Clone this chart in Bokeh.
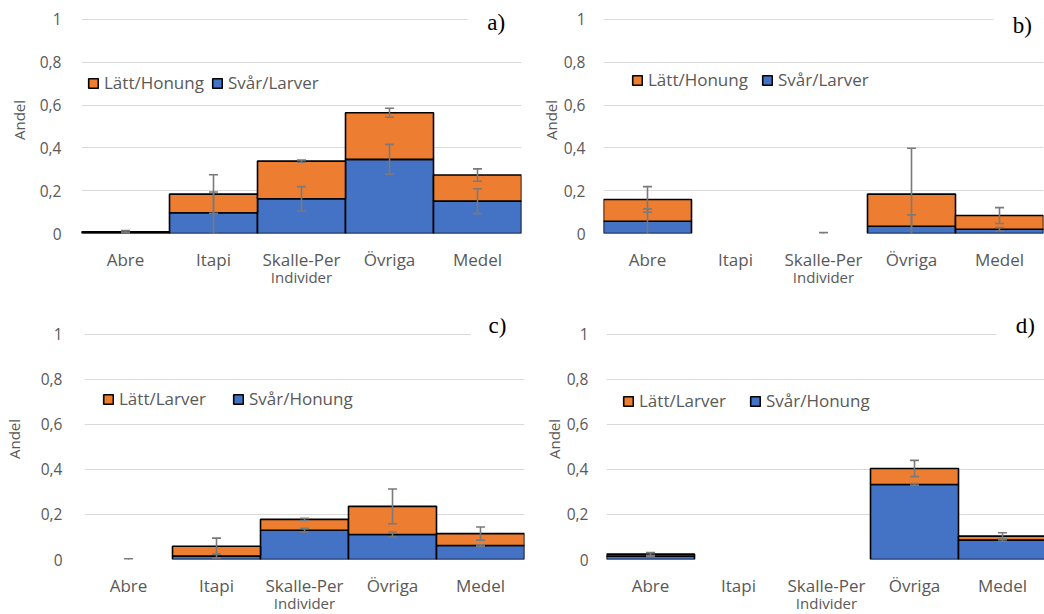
from bokeh.plotting import figure
from bokeh.layouts import column, row
from bokeh.models import ColumnDataSource, FactorRange, Range1d, FixedTicker, Legend, LegendItem, Label, BoxAnnotation
from bokeh.embed import file_html
from bokeh.resources import INLINE

categories = ["Abre", "Itapi", "Skalle-Per", "Övriga", "Medel"]
y_ticks = [0, 0.2, 0.4, 0.6, 0.8, 1]
y_tick_labels = ["0", "0,2", "0,4", "0,6", "0,8", "1"]

# a) Svår/Larver (bottom) and Lätt/Honung (top)
a_bottom = [0.004, 0.097, 0.162, 0.346, 0.151]
a_top = [0.004, 0.087, 0.176, 0.218, 0.122]
a_bottom_err = [0.003, 0.097, 0.057, 0.070, 0.058]
a_top_err = [0.006, 0.090, 0.005, 0.021, 0.029]

# b) Svår/Larver (bottom) and Lätt/Honung (top)
b_bottom = [0.057, 0.0, 0.0, 0.034, 0.020]
b_top = [0.102, 0.0, 0.0, 0.150, 0.064]
b_bottom_err = [0.058, 0.0, 0.0, 0.053, 0.008]
b_top_err = [0.060, 0.0, 0.004, 0.214, 0.037]

# c) Svår/Honung (bottom) and Lätt/Larver (top)
c_bottom = [0.0, 0.015, 0.130, 0.111, 0.062]
c_top = [0.0, 0.044, 0.048, 0.125, 0.053]
c_bottom_err = [0.0, 0.008, 0.008, 0.011, 0.003]
c_top_err = [0.003, 0.036, 0.005, 0.077, 0.029]

# d) Svår/Honung (bottom) and Lätt/Larver (top)
d_bottom = [0.015, 0.0, 0.0, 0.333, 0.086]
d_top = [0.009, 0.0, 0.0, 0.071, 0.018]
d_bottom_err = [0.003, 0.0, 0.0, 0.004, 0.005]
d_top_err = [0.007, 0.0, 0.0, 0.036, 0.015]

ORANGE = "#ED7D31"
BLUE = "#4472C4"
TEXT = "#595959"
GRID = "#D9D9D9"
ERR = "#7A7A7A"
FONT = "Open Sans"

# the y range runs a little past 1 so the panel tag fits inside the frame
TOP_ROW = dict(fh=227, ymax=1.06, bt=6, bb=67)
BOTTOM_ROW = dict(fh=241, ymax=1.07, bt=18, bb=55)


def make_panel(bottom, top, bottom_err, top_err, top_name, bottom_name, tag, rowg, g):
    p = figure(x_range=FactorRange(*categories), y_range=Range1d(0, rowg["ymax"]),
               frame_width=440, frame_height=rowg["fh"],
               min_border_left=81, min_border_right=1,
               min_border_top=rowg["bt"], min_border_bottom=rowg["bb"],
               output_backend="svg", toolbar_location=None)
    p.outline_line_color = None
    p.background_fill_color = "white"
    p.border_fill_color = "white"
    p.xgrid.grid_line_color = None
    p.ygrid.grid_line_color = GRID
    p.ygrid.grid_line_width = 1.2
    p.ygrid.ticker = FixedTicker(ticks=y_ticks)

    # stacked bars: empty segments are left out
    total = [b + t for b, t in zip(bottom, top)]
    rows_b = [i for i, v in enumerate(bottom) if v > 0]
    rows_t = [i for i, v in enumerate(top) if v > 0]
    src_b = ColumnDataSource(dict(x=[categories[i] for i in rows_b],
                                  top=[bottom[i] for i in rows_b]))
    src_t = ColumnDataSource(dict(x=[categories[i] for i in rows_t],
                                  bottom=[bottom[i] for i in rows_t],
                                  top=[total[i] for i in rows_t]))
    r_b = p.vbar(x="x", bottom=0, top="top", width=1.0, source=src_b,
                 fill_color=BLUE, line_color="black", line_width=1.6)
    r_t = p.vbar(x="x", bottom="bottom", top="top", width=1.0, source=src_t,
                 fill_color=ORANGE, line_color="black", line_width=1.6)

    # error bars centred on the top of each stacked segment
    ex, elo, ehi = [], [], []
    for i, c in enumerate(categories):
        for centre, err in ((bottom[i], bottom_err[i]), (total[i], top_err[i])):
            if err > 0:
                ex.append(c)
                elo.append(centre - err)
                ehi.append(centre + err)
    esrc = ColumnDataSource(dict(x=ex, lo=elo, hi=ehi))
    p.segment(x0="x", y0="lo", x1="x", y1="hi", source=esrc,
              line_color=ERR, line_width=1.6)
    p.scatter(x="x", y="lo", source=esrc, marker="dash", size=9,
              line_color=ERR, line_width=1.6)
    p.scatter(x="x", y="hi", source=esrc, marker="dash", size=9,
              line_color=ERR, line_width=1.6)

    # axes
    p.xaxis.axis_label = "Individer"
    p.xaxis.axis_label_text_font = FONT
    p.xaxis.axis_label_text_font_style = "normal"
    p.xaxis.axis_label_text_font_size = "15px"
    p.xaxis.axis_label_text_color = TEXT
    p.xaxis.axis_label_standoff = -7
    p.xaxis.major_label_text_font = FONT
    p.xaxis.major_label_text_font_size = "17px"
    p.xaxis.major_label_text_color = TEXT
    p.xaxis.major_label_standoff = 8
    p.xaxis.axis_line_color = None
    p.xaxis.major_tick_line_color = None
    p.xaxis.minor_tick_line_color = None

    p.yaxis.ticker = FixedTicker(ticks=y_ticks)
    p.yaxis.major_label_overrides = {t: l for t, l in zip(y_ticks, y_tick_labels)}
    p.yaxis.axis_label = "Andel"
    p.yaxis.axis_label_text_font = FONT
    p.yaxis.axis_label_text_font_style = "normal"
    p.yaxis.axis_label_text_font_size = "15px"
    p.yaxis.axis_label_text_color = TEXT
    p.yaxis.axis_label_standoff = g["yls"]
    p.yaxis.major_label_text_font = FONT
    p.yaxis.major_label_text_font_size = "15.5px"
    p.yaxis.major_label_text_color = TEXT
    p.yaxis.major_label_standoff = g["ys"]
    p.yaxis.axis_line_color = None
    p.yaxis.major_tick_line_color = None
    p.yaxis.minor_tick_line_color = None

    # legend
    legend = Legend(items=[LegendItem(label=top_name, renderers=[r_t]),
                           LegendItem(label=bottom_name, renderers=[r_b])],
                    orientation="horizontal", location=g["leg"],
                    padding=0, margin=0, spacing=g["sp"],
                    glyph_width=12, glyph_height=12, label_standoff=5,
                    label_height=20, label_text_font=FONT,
                    label_text_font_size="17px", label_text_color=TEXT,
                    background_fill_alpha=0, border_line_color=None)
    p.add_layout(legend, "center")

    # panel tag on a white box over the top gridline
    p.add_layout(BoxAnnotation(left=g["gap"], right=5, bottom=0.95, top=1.2,
                               fill_color="white", fill_alpha=1, line_color=None))
    p.add_layout(Label(x=g["tx"], y=g["ty"], text=tag, text_font="Liberation Serif",
                       text_font_size="23px", text_color="black",
                       text_align="left", text_baseline="middle"))
    return p


pa = make_panel(a_bottom, a_top, a_bottom_err, a_top_err, "Lätt/Honung", "Svår/Larver", "a)", TOP_ROW,
                dict(ys=14, yls=8, leg=(6, 139), sp=7, gap=4.39, tx=4.61, ty=0.986))
pb = make_panel(b_bottom, b_top, b_bottom_err, b_top_err, "Lätt/Honung", "Svår/Larver", "b)", TOP_ROW,
                dict(ys=12, yls=0, leg=(28, 142), sp=13, gap=4.43, tx=4.65, ty=0.972))
pc = make_panel(c_bottom, c_top, c_bottom_err, c_top_err, "Lätt/Larver", "Svår/Honung", "c)", BOTTOM_ROW,
                dict(ys=16, yls=14, leg=(18, 149), sp=26, gap=4.39, tx=4.59, ty=1.038))
pd_ = make_panel(d_bottom, d_top, d_bottom_err, d_top_err, "Lätt/Larver", "Svår/Honung", "d)", BOTTOM_ROW,
                 dict(ys=12, yls=0, leg=(16, 147), sp=23, gap=4.43, tx=4.65, ty=1.038))

layout = column(row(pa, pb, spacing=0), row(pc, pd_, spacing=0), spacing=0)
open("out.html", "w").write(file_html(layout, INLINE))
